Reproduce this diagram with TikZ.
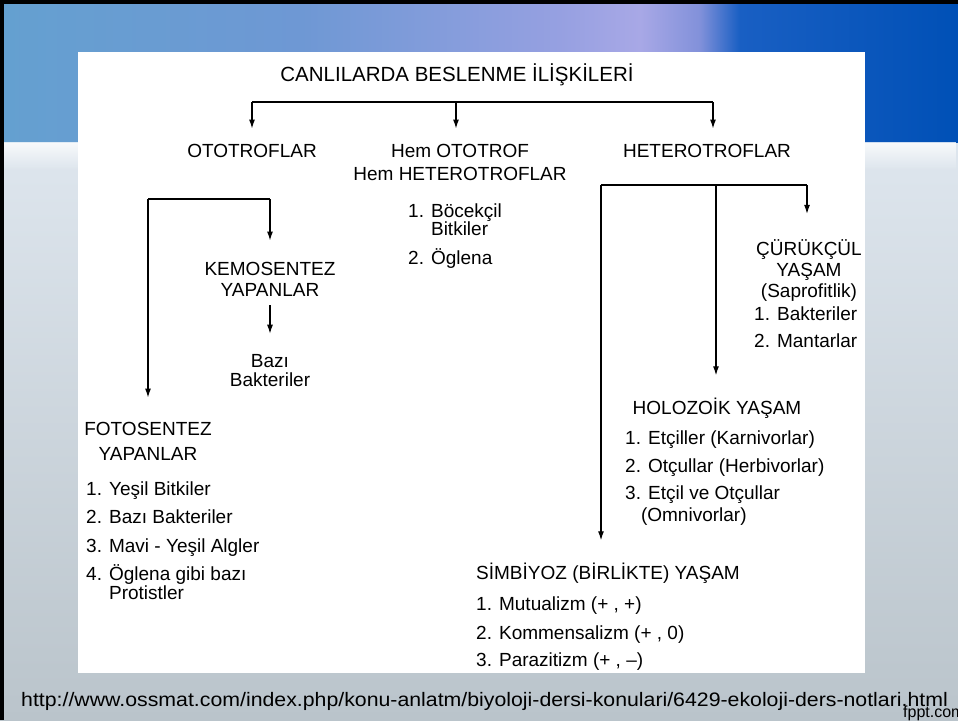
\documentclass[tikz,border=0pt]{standalone}
\usepackage{fontspec}
\setmainfont{Liberation Sans}
\usetikzlibrary{arrows.meta,positioning,fadings}
\definecolor{bant1}{RGB}{100,160,208}
\definecolor{bant2}{RGB}{110,152,212}
\definecolor{bant3}{RGB}{150,160,225}
\definecolor{bant4}{RGB}{168,168,230}
\definecolor{bant5}{RGB}{130,145,218}
\definecolor{bant6}{RGB}{25,95,195}
\definecolor{bant7}{RGB}{0,80,182}
\definecolor{altust}{RGB}{222,230,238}
\definecolor{altalt}{RGB}{186,196,203}
\pgfdeclarehorizontalshading{ustbant}{100bp}{color(0bp)=(bant1); color(25bp)=(bant1); color(40.7bp)=(bant2); color(54.2bp)=(bant3); color(58.4bp)=(bant4); color(61.5bp)=(bant5); color(63.6bp)=(bant6); color(75bp)=(bant7); color(100bp)=(bant7)}
\tikzset{
    yazi/.style={inner sep=0pt, font=\fontsize{19}{21}\selectfont},
    liste/.style={yazi, align=left, anchor=base west},
    cizgi/.style={line width=1.2pt},
    ok/.style={cizgi, -{Latex[length=9pt,width=6pt]}, shorten >=#1},
    ok/.default=15pt,
}
\begin{document}
\begin{tikzpicture}[x=1pt,y=-1pt]
    \useasboundingbox (0,0) rectangle (958,720);
    % arka plan
    \shade[top color=altust, bottom color=altalt] (0,142) rectangle (958,720);
    \shade[shading=ustbant] (0,0) rectangle (958,142);
    \fill[white, path fading=south, opacity=0.8] (0,142) rectangle (958,170);
    \fill[black] (0,0) rectangle (958,3.5);
    \fill[black] (0,0) rectangle (3.5,720);
    \fill[white] (78,52) rectangle (865,673);

    % (base = son satir)
    \node[yazi, anchor=base, font=\fontsize{20.5}{22}\selectfont] (baslik) at (457,81) {CANLILARDA BESLENME İLİŞKİLERİ};

    \node[yazi, anchor=base] (oto) at (252,157) {OTOTROFLAR};
    \node[yazi, anchor=base, align=center] (hem) at (460,180) {Hem OTOTROF\\[2pt]Hem HETEROTROFLAR};
    \node[yazi, anchor=base] (het) at (707,157) {HETEROTROFLAR};

    \coordinate (u1) at (252,102);
    \coordinate (u2) at (456,102);
    \coordinate (u3) at (713,102);
    \draw[cizgi] (u1) -- (u3);
    \draw[ok] (u1) -- (u1 |- oto.north);
    \draw[ok] (u2) -- (u2 |- hem.north);
    \draw[ok] (u3) -- (u3 |- het.north);

    % ototroflar
    \node[yazi, anchor=base, align=center] (kemo) at (270,296) {KEMOSENTEZ\\YAPANLAR};
    \node[yazi, anchor=base, align=center] (bazi) at (270,386) {Bazı\\[-2pt]Bakteriler};
    \node[yazi, anchor=base, align=center] (foto) at (148,460) {FOTOSENTEZ\\[4pt]YAPANLAR};
    \node[liste] (fotoliste) at (86,599) {1. Yeşil Bitkiler\\[7pt]2. Bazı Bakteriler\\[8pt]3. Mavi - Yeşil Algler\\[7pt]4. Öglena gibi bazı\\[-2pt]\hphantom{4. }Protistler};

    \coordinate (o1) at (148,199);
    \coordinate (o2) at (270,199);
    \draw[cizgi] (o1) -- (o2);
    \draw[ok=21pt] (o2) -- (o2 |- kemo.north);
    \draw[ok=24pt] (o1) -- (o1 |- foto.north);
    \draw[ok=20pt, shorten <=9pt] (kemo.south) -- (bazi.north);

    % hem ototrof hem heterotroflar
    \node[liste] (hemliste) at (408,264) {1. Böcekçil\\[-3pt]\hphantom{1. }Bitkiler\\[8pt]2. Öglena};

    % heterotroflar
    \node[yazi, anchor=base, align=center] (curuk) at (809,297) {ÇÜRÜKÇÜL\\YAŞAM\\(Saprofitlik)};
    \node[liste] (curukliste) at (754,347) {1. Bakteriler\\[6pt]2. Mantarlar};
    \node[yazi, anchor=base] (holo) at (717,414) {HOLOZOİK YAŞAM};
    \node[liste] (hololiste) at (625,521) {1. Etçiller (Karnivorlar)\\[7pt]2. Otçullar (Herbivorlar)\\[6pt]3. Etçil ve Otçullar\\[1pt]\hphantom{3.}(Omnivorlar)};
    \node[yazi, anchor=base west] (simb) at (476,579) {SİMBİYOZ (BİRLİKTE) YAŞAM};
    \node[liste] (simbliste) at (476,666) {1. Mutualizm (+ , +)\\[8pt]2. Kommensalizm (+ , 0)\\[6pt]3. Parazitizm (+ , --)};

    \coordinate (h1) at (601,185);
    \coordinate (h2) at (716,185);
    \coordinate (h3) at (807,185);
    \draw[cizgi] (h1) -- (h3);
    \draw[ok=25pt] (h3) -- (h3 |- curuk.north);
    \draw[ok=22pt] (h2) -- (h2 |- holo.north);
    \draw[ok=22pt] (h1) -- (h1 |- simb.north);

    \node[anchor=base west, inner sep=0pt, font=\fontsize{19.5}{20}\selectfont] (kaynak) at (21,706) {\scalebox{1.092}[1]{http://www.ossmat.com/index.php/konu-anlatm/biyoloji-dersi-konulari/6429-ekoloji-ders-notlari.html}};
    \node[anchor=base west, inner sep=0pt, font=\fontsize{16}{16}\selectfont] (fppt) at (903,717) {fppt.com};
\end{tikzpicture}
\end{document}
